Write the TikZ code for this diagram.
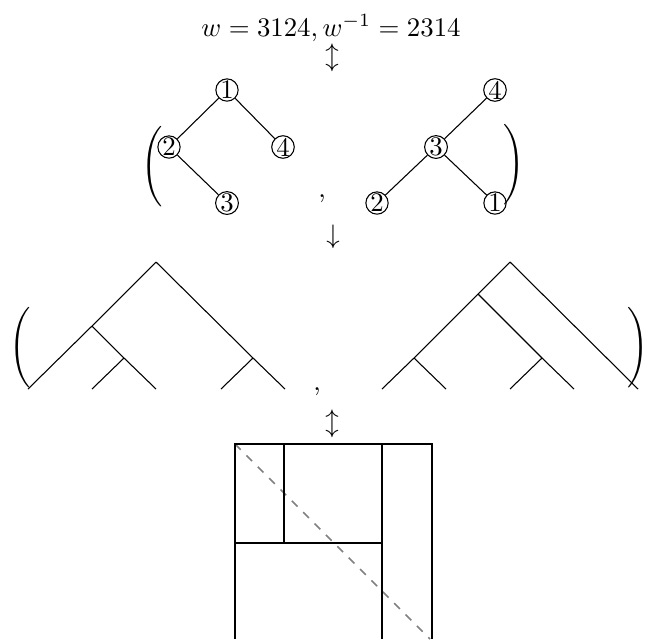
\documentclass[tikz,border=0pt]{standalone}
\usepackage{amsmath}
\begin{document}
\begin{tikzpicture}[x=0.3731pt,y=-0.3731pt,
  cn/.style={circle,draw,inner sep=0pt,minimum size=7.6pt},
  edge/.style={line width=0.4pt},
  paren/.style={inner sep=0pt},
  diag/.style={gray,dashed,line width=0.6pt}]
\useasboundingbox (0,0) rectangle (649,639);
% top line
\node[anchor=base] (w) at (331,36) {$w=3124, w^{-1}=2314$};
\node (a1) at (332,58) {$\updownarrow$};
% row 1 trees
\node[cn] (l1) at (227,90) {1};
\node[cn] (l2) at (169,147) {2};
\node[cn] (l4) at (283,147) {4};
\node[cn] (l3) at (227,203) {3};
\draw[edge] (l1) -- (l2) (l1) -- (l4) (l2) -- (l3);
\node[cn] (r4) at (495,90) {4};
\node[cn] (r3) at (436,147) {3};
\node[cn] (r2) at (377,203) {2};
\node[cn] (r1) at (495,203) {1};
\draw[edge] (r4) -- (r3) (r3) -- (r2) (r3) -- (r1);
\node[paren] (p1) at (152,167) {$\Bigg($};
\node[paren] (p2) at (514,165) {$\Bigg)$};
\node[anchor=base] (c1) at (322,197) {,};
\node (a2) at (333,237) {$\downarrow$};
% row 2 trees
\coordinate (A) at (156,262);
\coordinate (B) at (92,326);
\coordinate (C) at (124,358);
\coordinate (D) at (253,358);
\coordinate (L1) at (28,389);
\coordinate (L2) at (92,389);
\coordinate (L3) at (156,389);
\coordinate (L4) at (221,389);
\coordinate (L5) at (285,389);
\draw[edge] (A) -- (B) -- (L1) (B) -- (C) -- (L3) (C) -- (L2)
  (A) -- (D) -- (L5) (D) -- (L4);
\coordinate (E) at (510,262);
\coordinate (F) at (478,294);
\coordinate (G) at (414,358);
\coordinate (H) at (542,358);
\coordinate (M1) at (382,389);
\coordinate (M2) at (446,389);
\coordinate (M3) at (510,389);
\coordinate (M4) at (574,389);
\coordinate (M5) at (638,389);
\draw[edge] (E) -- (F) -- (G) -- (M1) (G) -- (M2)
  (F) -- (H) -- (M4) (H) -- (M3) (E) -- (M5);
\node[paren] (p3) at (20,348) {$\Bigg($};
\node[paren,anchor=east] (p4) at (649,348) {$\Bigg)$};
\node[anchor=base] (c2) at (317,390) {,};
\node (a3) at (332,424) {$\updownarrow$};
% rectangulation
\coordinate (TL) at (235,444);
\coordinate (TR) at (432,444);
\coordinate (BL) at (235,639);
\coordinate (BR) at (432,639);
\coordinate (Q1) at (284,444);
\coordinate (Q2) at (284,543);
\coordinate (Q3) at (235,543);
\coordinate (Q4) at (382,543);
\coordinate (Q5) at (382,444);
\coordinate (Q6) at (382,639);
\coordinate (DE) at (430,639);
\draw[diag] (TL) -- (DE);
\draw[edge] (BL) -- (TL) -- (TR) -- (BR);
\draw[edge] (Q1) -- (Q2) (Q3) -- (Q4) (Q5) -- (Q6);
\end{tikzpicture}
\end{document}
